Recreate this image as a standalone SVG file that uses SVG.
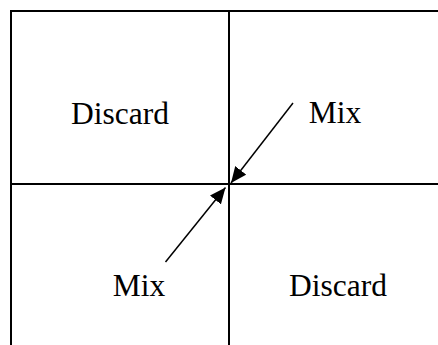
<svg xmlns="http://www.w3.org/2000/svg" width="438" height="345" viewBox="0 0 438 345">
  <style>
    .grid { stroke: #000; stroke-width: 2; fill: none; }
    .conn { stroke: #000; stroke-width: 1.5; fill: none; }
    .lbl { font-family: "Liberation Serif", "Times New Roman", serif; font-size: 31.5px; fill: #000; text-anchor: middle; }
  </style>
  <defs>
    <marker id="ah" viewBox="0 0 16 14" refX="16" refY="7" markerWidth="16" markerHeight="14" markerUnits="userSpaceOnUse" orient="auto">
      <path d="M0,0 L16,7 L0,14 Z" fill="#000"/>
    </marker>
  </defs>
  <rect width="438" height="345" fill="#fff"/>
  <g id="grid">
    <line class="grid" x1="10" y1="11" x2="438" y2="11"/>
    <line class="grid" x1="11" y1="184" x2="438" y2="184"/>
    <line class="grid" x1="11" y1="10" x2="11" y2="345"/>
    <line class="grid" x1="229" y1="11" x2="229" y2="345"/>
  </g>
  <g id="discard-tl"><text class="lbl" x="120" y="123.5">Discard</text></g>
  <g id="mix-tr"><text class="lbl" x="335" y="122.5">Mix</text></g>
  <g id="mix-bl"><text class="lbl" x="139" y="296">Mix</text></g>
  <g id="discard-br"><text class="lbl" x="338" y="296">Discard</text></g>
  <g id="connectors">
    <line class="conn" x1="293" y1="103" x2="231" y2="183" marker-end="url(#ah)"/>
    <line class="conn" x1="165.5" y1="262" x2="225.5" y2="187.5" marker-end="url(#ah)"/>
  </g>
</svg>
